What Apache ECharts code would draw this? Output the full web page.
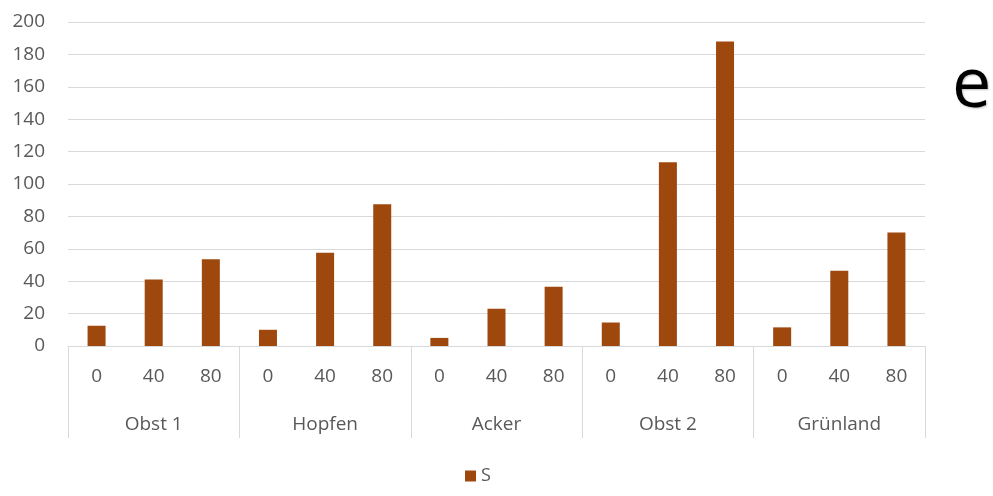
<!DOCTYPE html>
<html>
<head>
<meta charset="utf-8">
<script src="https://cdn.jsdelivr.net/npm/echarts@6/dist/echarts.min.js"></script>
<style>
html, body { margin: 0; padding: 0; background: #fff; }
#chart { width: 993px; height: 496px; }
</style>
</head>
<body>
<div id="chart"></div>
<script>
// Gruppen und Dosisstufen
var groups = ["Obst 1", "Hopfen", "Acker", "Obst 2", "Grünland"];
var doses = ["0", "40", "80"];
var seriesName = "S";
var values = [12.5, 41, 53.5, 10, 57.5, 87.5, 5, 23, 36.5, 14.5, 113.5, 188, 11.5, 46.5, 70];
var yTicks = [0, 200, 20]; // min, max, interval

var categories = [];
groups.forEach(function (g) {
	doses.forEach(function (d) {
		categories.push(d);
	});
});

var textColor = "#595959";
var lineColor = "#d9d9d9";
var font = "Open Sans";

var chart = echarts.init(document.getElementById("chart"));
var option = {
	animation: false,
	textStyle: { fontFamily: font },
	grid: {
		left: 68,
		right: 68,
		top: 22,
		bottom: 150
	},
	legend: {
		bottom: 6,
		left: 460,
		itemWidth: 11,
		itemHeight: 11,
		itemGap: 4,
		icon: "rect",
		textStyle: { color: textColor, fontSize: 18, fontFamily: font },
		data: [seriesName]
	},
	graphic: [{
		type: "text",
		left: 952,
		top: 52,
		style: {
			text: "e",
			fontSize: 70,
			fontFamily: font,
			fill: "#000",
			textShadowColor: "rgba(0,0,0,0.25)",
			textShadowBlur: 2,
			textShadowOffsetX: 1,
			textShadowOffsetY: 1
		}
	}],
	xAxis: [
		{
			type: "category",
			data: categories,
			position: "bottom",
			axisLine: { show: true, lineStyle: { color: lineColor, width: 1 } },
			axisTick: { show: false },
			axisLabel: { color: textColor, fontSize: 19, margin: 21, interval: 0 },
			splitLine: { show: false }
		},
		{
			type: "category",
			data: groups,
			position: "bottom",
			axisLine: { show: false },
			axisTick: { show: true, length: 92, lineStyle: { color: lineColor, width: 1 } },
			axisLabel: { color: textColor, fontSize: 19, margin: 69, interval: 0 },
			splitLine: { show: false }
		}
	],
	yAxis: {
		type: "value",
		min: yTicks[0],
		max: yTicks[1],
		interval: yTicks[2],
		axisLine: { show: false },
		axisTick: { show: false },
		axisLabel: { color: textColor, fontSize: 19, margin: 23 },
		splitLine: { lineStyle: { color: lineColor, width: 1 } }
	},
	series: [{
		name: seriesName,
		type: "bar",
		xAxisIndex: 0,
		data: values,
		barWidth: 18,
		itemStyle: { color: "#9e480e" }
	}]
};
chart.setOption(option);
</script>
</body>
</html>
